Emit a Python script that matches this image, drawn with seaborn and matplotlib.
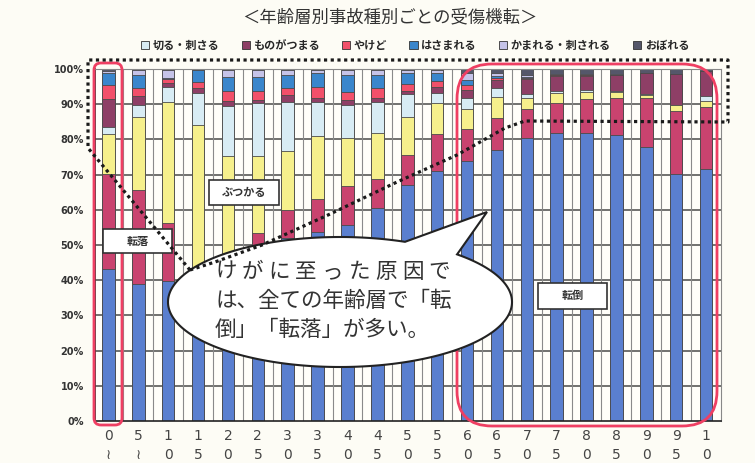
import numpy as np
import pandas as pd
import seaborn as sns
import matplotlib.pyplot as plt
from matplotlib.patches import FancyBboxPatch, Polygon, Patch

# 年齢層 (0〜4, 5〜9, ... 100〜)
ages = ['0', '5', '10', '15', '20', '25', '30', '35', '40', '45', '50',
        '55', '60', '65', '70', '75', '80', '85', '90', '95', '100']
age_ticks = ['0\n≀', '5\n≀', '1\n0', '1\n5', '2\n0', '2\n5', '3\n0', '3\n5',
             '4\n0', '4\n5', '5\n0', '5\n5', '6\n0', '6\n5', '7\n0', '7\n5',
             '8\n0', '8\n5', '9\n0', '9\n5', '1\n0']

# 事故種別ごとの割合 (%) - 下から積み上げ順
tentou = [43.3, 38.9, 39.7, 33.0, 38.0, 44.0, 52.0, 53.7, 55.8, 60.6, 67.0,
          71.0, 74.0, 77.1, 80.5, 81.9, 81.7, 81.2, 77.9, 70.2, 71.6]
tenraku = [27.0, 26.6, 16.6, 8.0, 7.0, 9.5, 8.0, 9.3, 10.9, 8.1, 8.5,
           10.6, 8.9, 9.1, 8.1, 8.5, 9.9, 10.7, 13.8, 17.8, 17.5]
butsukaru = [11.2, 21.0, 34.2, 43.2, 30.3, 21.8, 16.7, 18.0, 13.8, 13.2, 11.0,
             8.6, 5.7, 5.8, 3.1, 2.9, 2.0, 1.6, 0.9, 1.7, 1.8]
kiru = [2.1, 3.4, 4.5, 9.0, 14.2, 15.0, 13.8, 9.5, 9.3, 8.6, 6.3,
        3.0, 3.3, 2.5, 1.2, 0.5, 0.4, 0.2, 0.2, 0.2, 1.5]
tsumaru = [7.9, 2.4, 1.0, 1.5, 1.5, 1.0, 2.0, 1.4, 1.4, 1.4, 0.9,
           1.8, 2.0, 2.5, 4.2, 4.3, 4.0, 4.5, 6.0, 8.7, 7.0]
yakedo = [4.0, 2.4, 1.2, 1.7, 2.8, 2.5, 2.2, 2.9, 2.4, 2.8, 1.9,
          1.7, 1.5, 0.5, 0.3, 0.3, 0.2, 0.1, 0.0, 0.0, 0.0]
hasamareru = [3.5, 3.5, 0.3, 3.2, 3.8, 4.0, 3.6, 4.2, 4.7, 3.6, 3.4,
              2.3, 1.5, 0.5, 0.4, 0.0, 0.0, 0.0, 0.0, 0.0, 0.0]
kamareru = [0.3, 1.4, 2.3, 0.0, 2.1, 2.0, 1.5, 0.8, 1.5, 1.5, 0.8,
            0.8, 2.0, 0.8, 0.5, 0.3, 0.3, 0.2, 0.0, 0.0, 0.0]
oboreru = [0.7, 0.4, 0.2, 0.4, 0.3, 0.2, 0.2, 0.2, 0.2, 0.2, 0.2,
           0.2, 1.1, 1.2, 1.7, 1.3, 1.5, 1.5, 1.2, 1.4, 0.6]

categories = ['転倒', '転落', 'ぶつかる', '切る・刺さる', 'ものがつまる',
              'やけど', 'はさまれる', 'かまれる・刺される', 'おぼれる']
colors = ['#5a7fcf', '#c9436f', '#f6f08c', '#d8ecf4', '#8e3f66',
          '#f2506a', '#3a86cc', '#c5c3e8', '#55576a']
series = [tentou, tenraku, butsukaru, kiru, tsumaru, yakedo,
          hasamareru, kamareru, oboreru]

df = pd.DataFrame(dict(zip(categories, series)), index=ages)
cum = df.cumsum(axis=1)

sns.set_style('white')
plt.rcParams['font.family'] = ['Noto Sans CJK JP', 'DejaVu Sans']

W, H = 755, 463
fig = plt.figure(figsize=(W / 100, H / 100), dpi=100)
fig.patch.set_facecolor('#fdfcf5')

ax = fig.add_axes([95 / W, 1 - 421 / H, (721 - 95) / W, (421 - 69) / H])
ax.set_facecolor('#fffef9')

# グリッド
for v in range(10, 101, 10):
    ax.axhline(v, color='#4a4a4a', lw=1.1, zorder=0)
for i in range(20):
    ax.axvline(i + 0.5, color='#8a8a8a', lw=0.8, zorder=0)

# 積み上げ棒 (上の累計から順に描画)
for k in range(len(categories) - 1, -1, -1):
    sns.barplot(x=ages, y=cum[categories[k]].values, order=ages,
                color=colors[k], saturation=1, width=0.42,
                edgecolor='#4a4a4a', linewidth=0.6, ax=ax, zorder=2)

ax.set_xlim(-0.45, 20.5)
ax.set_ylim(0, 100)
ax.set_yticks(range(0, 101, 10))
ax.set_yticklabels([f'{v}%' for v in range(0, 101, 10)],
                   fontsize=7, fontweight='bold', color='#333333',
                   family=['DejaVu Sans'])
ax.set_xticks(range(len(ages)))
ax.set_xticklabels(age_ticks, fontsize=10, color='#444444', linespacing=1.45,
                   family=['DejaVu Sans'])
ax.set_xticks([i + 0.5 for i in range(20)], minor=True)
ax.tick_params(axis='x', which='major', length=0, pad=6)
ax.tick_params(axis='x', which='minor', length=3, direction='in', color='#444')
ax.tick_params(axis='y', length=3, pad=5, direction='out', color='#444')
ax.set_xlabel('')
ax.set_ylabel('')
for s in ['left', 'bottom']:
    ax.spines[s].set_color('#222222')
    ax.spines[s].set_linewidth(1.2)
for s in ['top', 'right']:
    ax.spines[s].set_color('#888888')
    ax.spines[s].set_linewidth(0.8)

# タイトルと凡例
fig.text(390 / W, 1 - 17 / H, '＜年齢層別事故種別ごとの受傷機転＞',
         ha='center', va='center', fontsize=12.5, color='#333333')
handles = [Patch(facecolor=colors[k], edgecolor='#333333', linewidth=0.6,
                 label=categories[k]) for k in range(3, 9)]
fig.legend(handles=handles, loc='center', bbox_to_anchor=(415 / W, 1 - 45 / H),
           ncol=6, frameon=False, handlelength=0.75, handleheight=0.75,
           handletextpad=0.3, columnspacing=2.0,
           prop={'size': 8, 'weight': 'bold'})

# 注記レイヤー (ピクセル座標)
ov = fig.add_axes([0, 0, 1, 1])
ov.set_xlim(0, W)
ov.set_ylim(H, 0)
ov.axis('off')
ov.patch.set_alpha(0)

dots = [(190, 270), (88, 148), (88, 60), (728, 60), (728, 122), (525, 121),
        (505, 128), (457, 155), (397, 182), (328, 215), (262, 245),
        (215, 262), (190, 270)]
ov.plot([p[0] for p in dots], [p[1] for p in dots], color='#1a1a1a', lw=2.3,
        linestyle=(0, (1, 1.1)), solid_capstyle='butt')

ov.add_patch(FancyBboxPatch((94, 63), 28, 362,
                            boxstyle='round,pad=0,rounding_size=7',
                            fill=False, edgecolor='#ef3f63', lw=2))
ov.add_patch(FancyBboxPatch((457, 64), 260, 362,
                            boxstyle='round,pad=0,rounding_size=35',
                            fill=False, edgecolor='#ef3f63', lw=2))

for (x0, y0, w, h, t) in [(103, 229, 69, 24, '転落'), (209, 180, 70, 25, 'ぶつかる'),
                          (538, 283, 69, 26, '転倒')]:
    ov.add_patch(plt.Rectangle((x0, y0), w, h, facecolor='white',
                               edgecolor='#333333', lw=1.2))
    ov.text(x0 + w / 2, y0 + h / 2, t, ha='center', va='center',
            fontsize=8, fontweight='bold', color='#333333')

# 吹き出し
cx, cy, a, b = 340, 302, 172, 65
t1, t2 = np.deg2rad(67.8), np.deg2rad(47.1) + 2 * np.pi
tt = np.linspace(t1, t2, 300)
pts = np.column_stack([cx + a * np.cos(tt), cy - b * np.sin(tt)])
pts = np.vstack([pts, [487, 212]])
ov.add_patch(Polygon(pts, closed=True, facecolor='white',
                     edgecolor='#222222', lw=1.5))

line1 = 'けがに至った原因で'
for i, ch in enumerate(line1):
    ov.text(215 + i * 26.7, 272, ch, ha='left', va='center',
            fontsize=15.5, color='#333333')
ov.text(215, 301, 'は、全ての年齢層で「転', ha='left', va='center',
        fontsize=15.5, color='#333333')
ov.text(215, 330, '倒」「転落」が多い。', ha='left', va='center',
        fontsize=15.5, color='#333333')

fig.savefig('out.png', dpi=100, facecolor=fig.get_facecolor())
